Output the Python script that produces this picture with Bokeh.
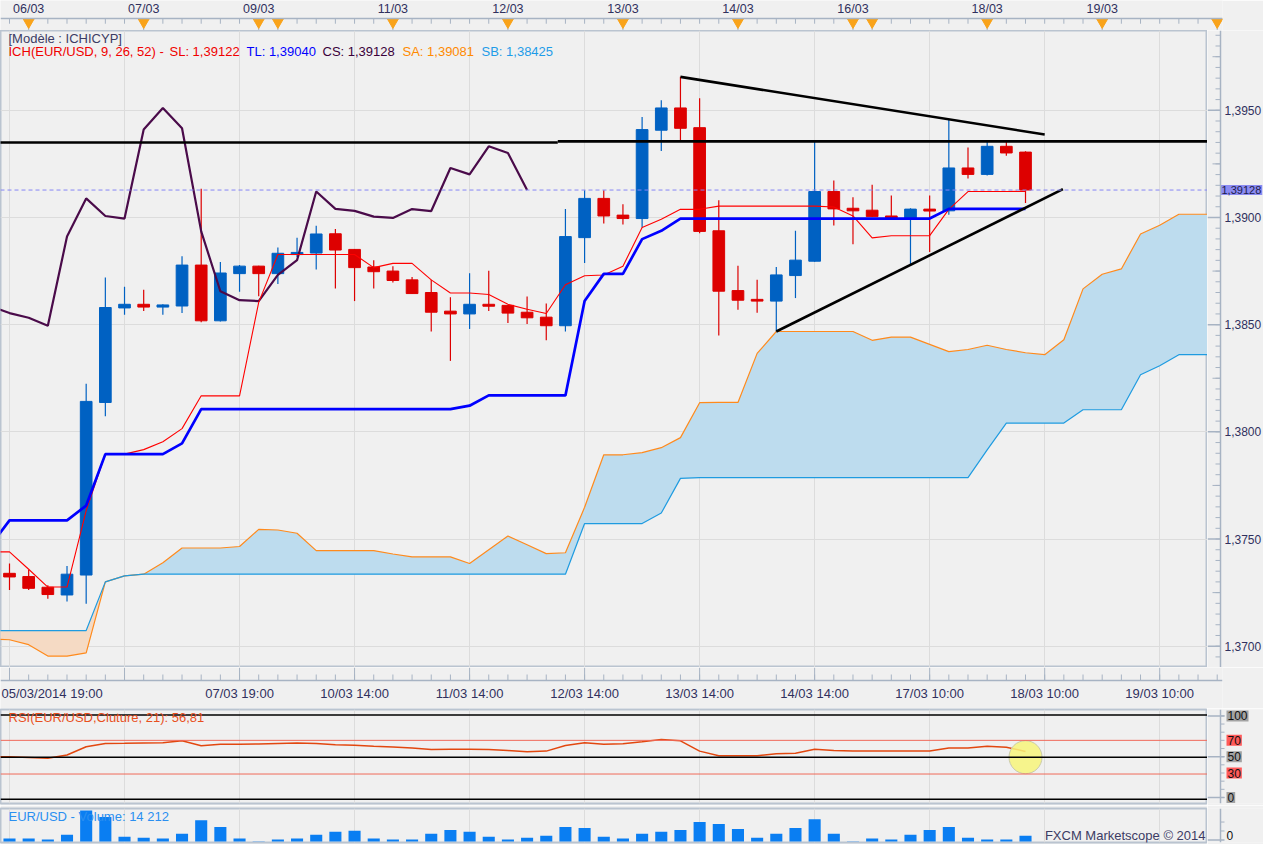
import numpy as np
from bokeh.plotting import figure
from bokeh.models import Range1d, FixedTicker, Grid, Span, Label
from bokeh.layouts import column, row
from bokeh.embed import file_html
from bokeh.resources import INLINE
from bokeh.core.properties import value

# ---------------- data ----------------
# EUR/USD 4-hour candles, bar index 0 .. 53
opens = [1.37340, 1.37325, 1.37275, 1.37239, 1.37332, 1.38137, 1.38578, 1.38595, 1.38582, 1.38587,
         1.38778, 1.38518, 1.38738, 1.38773, 1.38738, 1.38827, 1.38834, 1.38924, 1.38851, 1.38769,
         1.38750, 1.38709, 1.38650, 1.38563, 1.38550, 1.38595, 1.38590, 1.38558, 1.38535, 1.38495,
         1.38906, 1.39089, 1.39011, 1.38995, 1.39407, 1.39511, 1.39419, 1.38938, 1.38659, 1.38618,
         1.38610, 1.38729, 1.38796, 1.39121, 1.39043, 1.39034, 1.39007, 1.38995, 1.39039, 1.39031,
         1.39231, 1.39201, 1.39332, 1.39305]
highs = [1.37386, 1.37357, 1.37284, 1.37374, 1.38224, 1.38720, 1.38677, 1.38663, 1.38595, 1.38819,
         1.39134, 1.38792, 1.38778, 1.38775, 1.38860, 1.38906, 1.38961, 1.38946, 1.38853, 1.38801,
         1.38773, 1.38722, 1.38709, 1.38628, 1.38740, 1.38752, 1.38591, 1.38631, 1.38599, 1.39039,
         1.39127, 1.39127, 1.39062, 1.39469, 1.39547, 1.39656, 1.39556, 1.39080, 1.38775, 1.38709,
         1.38769, 1.38938, 1.39355, 1.39172, 1.39094, 1.39153, 1.39103, 1.39043, 1.39103, 1.39456,
         1.39327, 1.39355, 1.39355, 1.39309]
lows = [1.37262, 1.37262, 1.37221, 1.37209, 1.37198, 1.38073, 1.38546, 1.38564, 1.38546, 1.38554,
        1.38511, 1.38515, 1.38654, 1.38633, 1.38690, 1.38816, 1.38757, 1.38669, 1.38610, 1.38669,
        1.38697, 1.38643, 1.38468, 1.38331, 1.38480, 1.38564, 1.38508, 1.38503, 1.38427, 1.38468,
        1.38788, 1.38972, 1.38967, 1.38953, 1.39310, 1.39358, 1.38926, 1.38450, 1.38569, 1.38555,
        1.38468, 1.38624, 1.38794, 1.38962, 1.38875, 1.39002, 1.38996, 1.38778, 1.38839, 1.39013,
        1.39182, 1.39196, 1.39288, 1.39068]
closes = [1.37323, 1.37270, 1.37241, 1.37336, 1.38142, 1.38580, 1.38595, 1.38582, 1.38592, 1.38778,
          1.38518, 1.38741, 1.38773, 1.38738, 1.38833, 1.38837, 1.38923, 1.38848, 1.38766, 1.38747,
          1.38706, 1.38645, 1.38558, 1.38550, 1.38595, 1.38586, 1.38554, 1.38532, 1.38495, 1.38911,
          1.39089, 1.39007, 1.38995, 1.39410, 1.39511, 1.39416, 1.38935, 1.38656, 1.38614, 1.38610,
          1.38732, 1.38801, 1.39121, 1.39040, 1.39031, 1.39004, 1.38998, 1.39039, 1.39030, 1.39231,
          1.39201, 1.39332, 1.39301, 1.39128]
volumes = [7100, 7100, 4700, 16600, 75800, 60000, 11800, 9500, 7100, 19000,
           52100, 35500, 7100, 700, 4700, 7100, 16600, 23700, 26000, 7100,
           4700, 4700, 19000, 28400, 23700, 11800, 4700, 9500, 14200, 35500,
           33200, 11800, 7100, 19000, 23700, 28400, 47400, 42700, 30800, 9500,
           19000, 33200, 54500, 19000, 700, 7100, 4700, 16600, 28400, 35500,
           9500, 4700, 4700, 14212]
# indicators, bar index -1 .. 53
rsi = [50.8, 50.5, 49.7, 48.8, 52.6, 62.4, 66.3, 66.5, 66.9, 67.1, 69.4,
       63.6, 65.3, 65.3, 65.6, 66.2, 66.7, 66.2, 64.8, 64.2, 63.0,
       62.1, 60.9, 59.0, 59.3, 59.5, 59.0, 57.8, 56.6, 57.2, 63.8,
       67.1, 65.3, 65.9, 68.3, 70.9, 69.4, 57.2, 51.6, 51.6, 51.6,
       54.0, 54.7, 59.3, 58.0, 57.4, 57.4, 57.4, 57.4, 57.4, 60.9,
       60.9, 63.0, 61.9, 56.81]
tenkan = [1.37440, 1.37440, 1.37359, 1.37276, 1.37276, 1.37633, 1.37896, 1.37896, 1.37917, 1.37954,
          1.38015, 1.38168, 1.38168, 1.38168, 1.38604, 1.38827, 1.38827, 1.38827, 1.38827, 1.38827,
          1.38766, 1.38786, 1.38786, 1.38709, 1.38648, 1.38648, 1.38641, 1.38595, 1.38572, 1.38552,
          1.38686, 1.38728, 1.38732, 1.38773, 1.38953, 1.38992, 1.39038, 1.39038, 1.39053, 1.39053,
          1.39053, 1.39053, 1.39053, 1.39053, 1.39049, 1.39007, 1.38905, 1.38915, 1.38915, 1.38915,
          1.39038, 1.39121, 1.39121, 1.39121, 1.39122]
kijun = [1.37468, 1.37587, 1.37587, 1.37587, 1.37587, 1.37656, 1.37896, 1.37896, 1.37896, 1.37896,
         1.37946, 1.38106, 1.38106, 1.38106, 1.38106, 1.38106, 1.38106, 1.38106, 1.38106, 1.38106,
         1.38106, 1.38106, 1.38106, 1.38106, 1.38106, 1.38122, 1.38170, 1.38170, 1.38170, 1.38170,
         1.38170, 1.38610, 1.38737, 1.38737, 1.38899, 1.38938, 1.38995, 1.38995, 1.38995, 1.38995,
         1.38995, 1.38995, 1.38995, 1.38995, 1.38995, 1.38995, 1.38995, 1.38995, 1.38995, 1.38995,
         1.39040, 1.39040, 1.39040, 1.39040, 1.39040]
# Senkou spans as plotted (26 bars ahead), bar index -1 .. 63
senkou_a = [1.37033, 1.37030, 1.37007, 1.36954, 1.36954, 1.36969, 1.37300, 1.37328, 1.37336, 1.37389,
            1.37458, 1.37458, 1.37458, 1.37465, 1.37545, 1.37542, 1.37527, 1.37446, 1.37446, 1.37446,
            1.37446, 1.37430, 1.37417, 1.37417, 1.37417, 1.37386, 1.37450, 1.37514, 1.37473, 1.37432,
            1.37436, 1.37648, 1.37893, 1.37893, 1.37903, 1.37926, 1.37973, 1.38136, 1.38137, 1.38137,
            1.38366, 1.38468, 1.38468, 1.38468, 1.38468, 1.38468, 1.38427, 1.38442, 1.38442, 1.38408,
            1.38374, 1.38384, 1.38404, 1.38384, 1.38369, 1.38360, 1.38430, 1.38667, 1.38735, 1.38760,
            1.38923, 1.38964, 1.39015, 1.39015, 1.39015]
senkou_b = [1.37073, 1.37073, 1.37073, 1.37073, 1.37073, 1.37073, 1.37300, 1.37328, 1.37336, 1.37336,
            1.37336, 1.37336, 1.37336, 1.37336, 1.37336, 1.37336, 1.37336, 1.37336, 1.37336, 1.37336,
            1.37336, 1.37336, 1.37336, 1.37336, 1.37336, 1.37336, 1.37336, 1.37336, 1.37336, 1.37336,
            1.37336, 1.37572, 1.37572, 1.37572, 1.37572, 1.37621, 1.37783, 1.37786, 1.37786, 1.37786,
            1.37786, 1.37786, 1.37786, 1.37786, 1.37786, 1.37786, 1.37786, 1.37786, 1.37786, 1.37786,
            1.37786, 1.37786, 1.37916, 1.38041, 1.38041, 1.38041, 1.38041, 1.38103, 1.38103, 1.38103,
            1.38266, 1.38308, 1.38360, 1.38360, 1.38360]
# trend lines drawn on the chart: (bar, price) -> (bar, price)
trend_x0 = [-2.0, 28.6, 35.0, 40.0]
trend_y0 = [1.39350, 1.39355, 1.39656, 1.38468]
trend_x1 = [28.6, 64.0, 54.0, 54.95]
trend_y1 = [1.39350, 1.39355, 1.39387, 1.39132]
# time scale
day_marks = [1, 7, 13, 14, 20, 26, 32, 38, 44, 45, 51, 57, 63]
day_labels = ["06/03", "07/03", "09/03", "", "11/03", "12/03", "13/03", "14/03", "16/03", "",
              "18/03", "19/03", ""]
time_ticks = [0, 6, 12, 18, 24, 30, 36, 42, 48, 54, 60]
time_labels = ["05/03/2014 19:00", "", "07/03 19:00", "10/03 14:00", "11/03 14:00", "12/03 14:00",
               "13/03 14:00", "14/03 14:00", "17/03 10:00", "18/03 10:00", "19/03 10:00"]
price_ticks = [1.3700, 1.3750, 1.3800, 1.3850, 1.3900, 1.3950]
rsi_levels = [100, 70, 50, 30, 0]
rsi_level_colors = ["#a2a2a2", "#ff5a5a", "#a2a2a2", "#ff5a5a", "#a2a2a2"]
legend_texts = ["ICH(EUR/USD, 9, 26, 52) -", "SL: 1,39122", "TL: 1,39040", "CS: 1,39128",
                "SA: 1,39081", "SB: 1,38425"]
legend_colors = ["#f00000", "#f00000", "#0000ff", "#3a003a", "#ff8a00", "#1e9ce8"]
legend_x = [8, 169, 246, 322, 402, 481]

# ---------------- layout helpers ----------------
W, H = 1263, 844
SY = H / 860.0
FR = 1207                           # right edge of the plot panels (px)
BAR_PX, BAR0_PX = 19.17, 9.0        # px per bar, px of bar 0
PPU = 21840.0                       # reference px per price unit
P_REF, P_REF_Y = 1.3950, 112.3      # price at a reference pixel row


def bar_at(px):
    return (px - BAR0_PX) / BAR_PX


def cy(v):
    return int(round(v * SY))


FONT = "Liberation Sans"
BG = "#f0f0f0"
BORDER = "#bac4d0"
RULER = "#a7b3c3"
GRID = "#dcdcdc"
INK = "#30305e"
BLUE = "#0061c2"
RED = "#dd0000"

edges = [cy(v) for v in (0, 31, 680, 721, 820, 860)]
hs = [b - a for a, b in zip(edges[:-1], edges[1:])]

x_main = Range1d(bar_at(0), bar_at(FR))
x_wide = Range1d(bar_at(0), bar_at(1222))


def make_fig(w, h, xr, yr, right=0, top=0, bottom=0, outline=None):
    p = figure(width=w, height=h, x_range=xr, y_range=yr, title=None,
               x_axis_location=None, y_axis_location=None,
               min_border_left=0, min_border_right=right,
               min_border_top=top, min_border_bottom=bottom,
               background_fill_color=BG, border_fill_color=BG,
               outline_line_color=outline, outline_line_width=2,
               toolbar_location=None, output_backend="svg")
    p.xgrid.visible = False
    p.ygrid.visible = False
    return p


def add_text(p, frame_h, x, y_top, text, color, size, align="left"):
    p.add_layout(Label(x=x, y=frame_h - cy(y_top), x_units="screen", y_units="screen",
                       text=text, text_color=color, text_font=FONT, text_font_size=size,
                       text_align=align, text_baseline="middle"))


def right_panel(h, yr, top=0, bottom=0):
    # scale strip right of a panel: full-height frame, same value-per-pixel as the panel
    upp = (yr.end - yr.start) / (h - top - bottom)
    yr2 = Range1d(yr.start - bottom * upp, yr.end + top * upp)
    q = make_fig(W - FR, h, Range1d(FR, W), yr2)
    q.add_layout(Span(location=1220, dimension="height", line_color=RULER, line_width=1.5))
    return q


bars = np.arange(len(closes))
ext = np.arange(-1, len(closes))
fut = np.arange(-1, len(senkou_a) - 1)
all_bars = np.arange(0, 64)

# ---------------- top date strip ----------------
ps = make_fig(W, hs[0], x_wide, Range1d(31, 0), right=W - 1222)
ps.add_layout(Span(location=18.5, dimension="width", line_color=RULER, line_width=1.5))
ps.segment(x0=all_bars, y0=18.5, x1=all_bars, y1=24, line_color=RULER, line_width=1)
ps.segment(x0=day_marks, y0=18.5, x1=day_marks, y1=31, line_color=RULER, line_width=1)
ps.scatter(x=day_marks, y=22.3, marker="inverted_triangle", size=11,
           fill_color="#f9a31a", line_color="#f9a31a")
lab_x = [d for d, t in zip(day_marks, day_labels) if t]
lab_t = [t for t in day_labels if t]
ps.text(x=lab_x, y=9, text=lab_t, text_align="center", text_baseline="middle",
        text_font=value(FONT), text_font_size="12.5px", text_color=INK)

# ---------------- main Ichimoku chart ----------------
price_top = P_REF + (P_REF_Y - 31) / PPU
price_bot = P_REF - (680 - P_REF_Y) / PPU
yr_main = Range1d(price_bot, price_top)
pm = make_fig(FR, hs[1], x_main, yr_main, outline=BORDER)
pm.add_layout(Grid(dimension=0, ticker=FixedTicker(ticks=time_ticks), grid_line_color=GRID))
pm.add_layout(Grid(dimension=1, ticker=FixedTicker(ticks=price_ticks), grid_line_color=GRID))

sa = np.array(senkou_a)
sb = np.array(senkou_b)
cloud_top = np.maximum(sa, sb)
pm.varea(x=fut, y1=sb, y2=cloud_top, fill_color="#bddcee")
pm.varea(x=fut, y1=sa, y2=cloud_top, fill_color="#f5dac4")
pm.line(fut, sa, line_color="#ff8a1c", line_width=1.2)
pm.line(fut, sb, line_color="#1e9be0", line_width=1.2)

o = np.array(opens)
c = np.array(closes)
cols = [BLUE if cc >= oo else RED for oo, cc in zip(o, c)]
pm.segment(x0=bars, y0=highs, x1=bars, y1=lows, line_color=cols, line_width=1.2)
pm.vbar(x=bars, top=np.maximum(o, c), bottom=np.minimum(o, c), width=0.61,
        fill_color=cols, line_color=cols, line_width=1)

# Chikou span: closes plotted 26 bars back
pm.line(np.arange(-1, len(closes) - 26), closes[25:], line_color="#4a0b4a", line_width=2.2)
pm.line(ext, tenkan, line_color="#ff0000", line_width=1.1)
pm.line(ext, kijun, line_color="#0000ff", line_width=2.7)
pm.segment(x0=trend_x0, y0=trend_y0, x1=trend_x1, y1=trend_y1, line_color="black", line_width=2.6)
pm.add_layout(Span(location=closes[-1], dimension="width", line_color="#8585f5",
                   line_dash="4 3", line_width=1))

fh = hs[1]
add_text(pm, fh, 8, 8, "[Modèle : ICHICYP]", "#3c3c64", "13px")
for t, col, x in zip(legend_texts, legend_colors, legend_x):
    add_text(pm, fh, x, 21, t, col, "13px")

# price scale on the right
qm = right_panel(hs[1], yr_main)
minor_p = [round(v, 4) for v in np.arange(1.3690, 1.3990, 0.0005)]
mid_p = [round(v, 4) for v in np.arange(1.3675, 1.3990, 0.005)]
qm.segment(x0=1215, y0=minor_p, x1=1220, y1=minor_p, line_color=RULER, line_width=1)
qm.segment(x0=1212, y0=mid_p, x1=1220, y1=mid_p, line_color=RULER, line_width=1)
qm.segment(x0=FR, y0=price_ticks, x1=1220, y1=price_ticks, line_color=RULER, line_width=1.5)
qm.text(x=1224, y=price_ticks, text=[f"{v:.4f}".replace(".", ",") for v in price_ticks],
        text_align="left", text_baseline="middle", text_font=value(FONT),
        text_font_size="12px", text_color=INK)
qm.text(x=[1220], y=[closes[-1]], text=[f"{closes[-1]:.5f}".replace(".", ",")],
        text_align="left", text_baseline="middle", text_font=value(FONT),
        text_font_size="11px", text_color="#1c1c4c",
        background_fill_color="#8b8bf2", padding=1)

# ---------------- bottom time axis band ----------------
pa = make_fig(W, hs[2], x_wide, Range1d(41, 0), right=W - 1222)
pa.add_layout(Span(location=13, dimension="width", line_color=RULER, line_width=1.5))
pa.segment(x0=time_ticks, y0=0, x1=time_ticks, y1=13, line_color=RULER, line_width=1)
pa.segment(x0=all_bars, y0=7, x1=all_bars, y1=13, line_color=RULER, line_width=1)
pa.text(x=[bar_at(1)], y=26, text=[time_labels[0]], text_align="left", text_baseline="middle",
        text_font=value(FONT), text_font_size="13px", text_color=INK)
tx = [t for t, l in zip(time_ticks[1:], time_labels[1:]) if l]
tl = [l for l in time_labels[1:] if l]
pa.text(x=tx, y=26, text=tl, text_align="center", text_baseline="middle",
        text_font=value(FONT), text_font_size="13px", text_color=INK)

# ---------------- RSI panel ----------------
rsi_top = 100 + (727.7 - 722) / 0.86
rsi_bot = -(818 - 813.7) / 0.86
yr_rsi = Range1d(rsi_bot, rsi_top)
pr = make_fig(FR, hs[3], x_main, yr_rsi, top=cy(1), bottom=cy(2), outline=BORDER)
pr.add_layout(Grid(dimension=0, ticker=FixedTicker(ticks=time_ticks), grid_line_color=GRID))
for lvl in rsi_levels:
    black = lvl in (0, 50, 100)
    pr.add_layout(Span(location=lvl, dimension="width",
                       line_color="black" if black else "#f06a5a",
                       line_width=1.5 if black else 1))
pr.line(ext, rsi, line_color="#e2470f", line_width=1.5)
pr.scatter(x=[bars[-1]], y=[50], size=33, marker="circle", fill_color="#f7f57a",
           fill_alpha=0.85, line_color="#c9c9a9", line_width=1)
frh = hs[3] - cy(1) - cy(2)
add_text(pr, frh, 8, 8, f"RSI(EUR/USD.Cluture, 21): {rsi[-1]:.2f}".replace(".", ","),
         "#e8501e", "13px")

qr = right_panel(hs[3], yr_rsi, top=cy(1), bottom=cy(2))
rsi_minor = list(range(0, 101, 10))
qr.segment(x0=1220, y0=rsi_minor, x1=1224, y1=rsi_minor, line_color=RULER, line_width=1)
qr.segment(x0=FR, y0=[0, 50, 100], x1=1224, y1=[0, 50, 100], line_color=RULER, line_width=1.5)
qr.text(x=1226, y=rsi_levels, text=[str(v) for v in rsi_levels], text_align="left",
        text_baseline="middle", text_font=value(FONT), text_font_size="12px",
        text_color="#101010", background_fill_color=rsi_level_colors, padding=1)

# ---------------- volume panel ----------------
vol_px = 14212 / 6.0
yr_vol = Range1d(-vol_px, 34 * vol_px)
pv = make_fig(FR, hs[4], x_main, yr_vol, top=cy(3), bottom=cy(2), outline=BORDER)
pv.add_layout(Grid(dimension=0, ticker=FixedTicker(ticks=time_ticks), grid_line_color=GRID))
pv.vbar(x=bars, top=volumes, bottom=0, width=0.63, fill_color="#0a7ef2", line_color=None)
fvh = hs[4] - cy(3) - cy(2)
add_text(pv, fvh, 8, 8, "EUR/USD - Volume: " + f"{volumes[-1]:,}".replace(",", " "),
         "#2a8ff0", "13px")
add_text(pv, fvh, 1205, 28, "FXCM Marketscope © 2014", "#3c3c64", "13px", align="right")

qv = right_panel(hs[4], yr_vol, top=cy(3), bottom=cy(2))
qv.segment(x0=1220, y0=[25000, 50000], x1=1224, y1=[25000, 50000], line_color=RULER, line_width=1)
qv.segment(x0=FR, y0=[0], x1=1224, y1=[0], line_color=RULER, line_width=1.5)
qv.text(x=1226, y=[0], text=["0"], text_align="left", text_baseline="bottom",
        text_font=value(FONT), text_font_size="12px", text_color="#101010")

layout = column(ps, row(pm, qm, spacing=0), pa, row(pr, qr, spacing=0),
                row(pv, qv, spacing=0), spacing=0)
open("out.html", "w").write(file_html(layout, INLINE))
